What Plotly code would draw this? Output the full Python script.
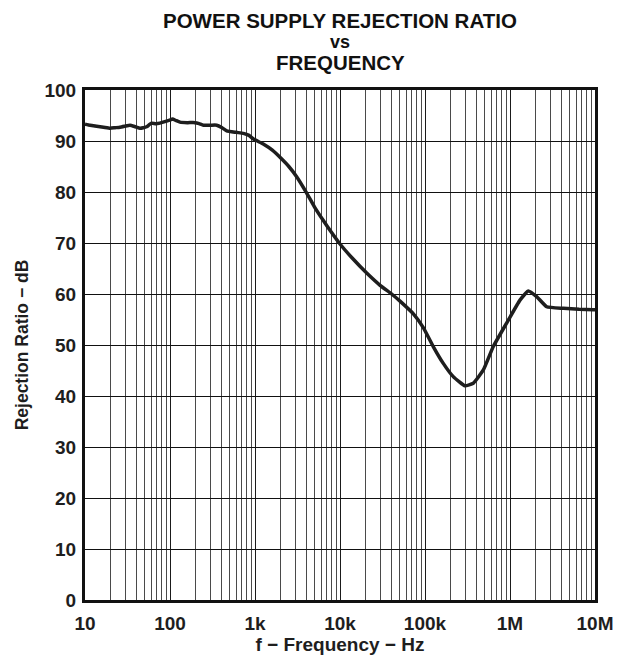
import plotly.graph_objects as go

# Data
freq_hz = [10, 11.5, 13.7, 16.5, 19.7, 22.5, 25.8, 29.5, 33.8, 39, 44.4, 48.5, 53, 57,
           60.8, 68, 76, 83, 91, 99, 107, 118, 131, 160, 197, 220, 247, 300, 354, 410,
           465, 600, 730, 850, 957, 1250, 1600, 1968, 2500, 3090, 4055, 5000, 6310,
           8000, 10000, 14000, 20600, 29600, 40500, 50800, 73000, 95500, 125000,
           164000, 215000, 295000, 370000, 486000, 636000, 913000, 1310000, 1640000,
           2060000, 2700000, 4240000, 6500000, 9550000, 10000000]
psrr_db = [93.3, 93.1, 92.9, 92.7, 92.5, 92.6, 92.7, 92.9, 93.1, 92.8, 92.5, 92.6, 92.8,
           93.2, 93.5, 93.4, 93.5, 93.7, 93.9, 94.1, 94.3, 94.0, 93.7, 93.6, 93.6,
           93.4, 93.1, 93.1, 93.1, 92.6, 92.0, 91.7, 91.5, 91.1, 90.4, 89.4, 88.2,
           86.8, 85.0, 83.0, 79.8, 77.1, 74.5, 72.0, 69.8, 67.0, 64.1, 61.7, 60.0,
           58.6, 56.1, 53.4, 49.7, 46.4, 43.8, 42.0, 42.5, 45.1, 49.7, 54.3, 58.8,
           60.6, 59.5, 57.5, 57.2, 57.0, 56.9, 56.9]

decades = [10, 100, 1000, 10000, 100000, 1000000, 10000000]
decade_labels = ["10", "100", "1k", "10k", "100k", "1M", "10M"]
y_ticks = [0, 10, 20, 30, 40, 50, 60, 70, 80, 90, 100]

minor_vals = [d * m for d in decades[:-1] for m in range(2, 10)]

fig = go.Figure()
fig.add_trace(go.Scatter(x=freq_hz, y=psrr_db, mode="lines",
                         line=dict(color="#1e1e1e", width=3.5, shape="spline", smoothing=0.4),
                         showlegend=False, hoverinfo="skip"))

font_family = "Liberation Sans, Arial, sans-serif"
txt = "#1e1e1e"
fig.update_layout(
    width=620, height=662,
    margin=dict(l=85, r=25, t=90, b=62),
    paper_bgcolor="white", plot_bgcolor="white",
    font=dict(family=font_family, color=txt),
    xaxis=dict(type="log", range=[1, 7], tickmode="array", tickvals=decades,
               ticktext=decade_labels, automargin=False,
               showgrid=True, gridcolor="#1a1a1a", gridwidth=1,
               minor=dict(tickmode="array", tickvals=minor_vals, showgrid=True,
                          gridcolor="#4a4a4a", gridwidth=1, ticks=""),
               showline=True, linecolor="#111111", linewidth=3, mirror=True,
               ticks="", zeroline=False, ticklabelstandoff=4,
               tickfont=dict(size=19, weight="bold", color=txt),
               title=dict(text="f − Frequency − Hz", standoff=5,
                          font=dict(size=19, weight="bold", color=txt))),
    yaxis=dict(range=[0, 100], tickmode="array", tickvals=y_ticks, automargin=False,
               showgrid=True, gridcolor="#111111", gridwidth=1.3,
               showline=True, linecolor="#111111", linewidth=3, mirror=True,
               ticks="", zeroline=False, ticklabelstandoff=2,
               tickfont=dict(size=19, weight="bold", color=txt),
               title=dict(text="Rejection Ratio − dB", standoff=12,
                          font=dict(size=17.5, weight="bold", color=txt))),
    annotations=[
        dict(text="POWER SUPPLY REJECTION RATIO", x=0.5, y=1.0, xref="paper", yref="paper",
             xanchor="center", yanchor="middle", yshift=70, showarrow=False,
             font=dict(size=20.5, weight="bold", color="#111111")),
        dict(text="vs", x=0.5, y=1.0, xref="paper", yref="paper",
             xanchor="center", yanchor="middle", yshift=48, showarrow=False,
             font=dict(size=18, weight="bold", color="#111111")),
        dict(text="FREQUENCY", x=0.5, y=1.0, xref="paper", yref="paper",
             xanchor="center", yanchor="middle", yshift=28, showarrow=False,
             font=dict(size=20.5, weight="bold", color="#111111")),
    ],
)

fig.write_html("out.html")
